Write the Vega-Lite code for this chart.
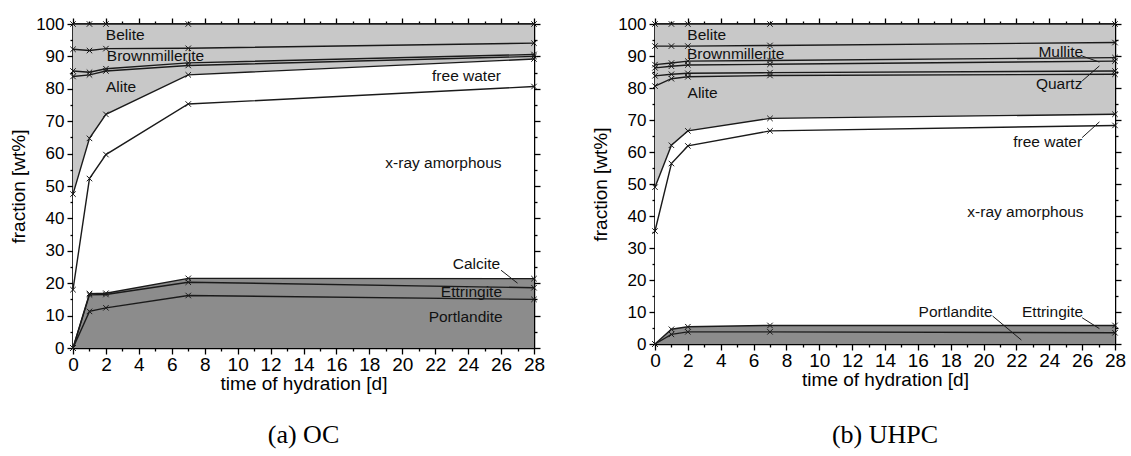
{
  "$schema": "https://vega.github.io/schema/vega-lite/v6.json",
  "padding": {"left": 8, "top": 14, "right": 5, "bottom": 5},
  "spacing": 121,
  "bounds": "flush",
  "config": {
    "font": "Liberation Sans",
    "view": {"stroke": "#000", "strokeWidth": 1.5},
    "axis": {"domainColor": "#000", "domainWidth": 1.5, "tickColor": "#000", "tickWidth": 1.3, "labelColor": "#000", "titleColor": "#000", "labelFont": "Liberation Sans", "titleFont": "Liberation Sans", "labelFontSize": 17, "titleFontSize": 19, "titleFontWeight": "normal", "grid": false},
    "title": {"font": "Liberation Serif", "fontSize": 26, "fontWeight": "normal", "color": "#000"}
  },
  "datasets": {
    "oc": [
      {"phase": "Portlandite", "t": 0, "lo": 0, "hi": 0}, {"phase": "Portlandite", "t": 1, "lo": 0, "hi": 11.3}, {"phase": "Portlandite", "t": 2, "lo": 0, "hi": 12.4}, {"phase": "Portlandite", "t": 7, "lo": 0, "hi": 16.2}, {"phase": "Portlandite", "t": 28, "lo": 0, "hi": 15.0},
      {"phase": "Ettringite", "t": 0, "lo": 0, "hi": 0}, {"phase": "Ettringite", "t": 1, "lo": 11.3, "hi": 16.4}, {"phase": "Ettringite", "t": 2, "lo": 12.4, "hi": 16.5}, {"phase": "Ettringite", "t": 7, "lo": 16.2, "hi": 20.3}, {"phase": "Ettringite", "t": 28, "lo": 15.0, "hi": 18.6},
      {"phase": "Calcite", "t": 0, "lo": 0, "hi": 0}, {"phase": "Calcite", "t": 1, "lo": 16.4, "hi": 16.8}, {"phase": "Calcite", "t": 2, "lo": 16.5, "hi": 16.9}, {"phase": "Calcite", "t": 7, "lo": 20.3, "hi": 21.5}, {"phase": "Calcite", "t": 28, "lo": 18.6, "hi": 21.4},
      {"phase": "x-ray amorphous", "t": 0, "lo": 0, "hi": 18}, {"phase": "x-ray amorphous", "t": 1, "lo": 16.8, "hi": 52.3}, {"phase": "x-ray amorphous", "t": 2, "lo": 16.9, "hi": 59.7}, {"phase": "x-ray amorphous", "t": 7, "lo": 21.5, "hi": 75.3}, {"phase": "x-ray amorphous", "t": 28, "lo": 21.4, "hi": 80.7},
      {"phase": "free water", "t": 0, "lo": 18, "hi": 47.5}, {"phase": "free water", "t": 1, "lo": 52.3, "hi": 64.7}, {"phase": "free water", "t": 2, "lo": 59.7, "hi": 72.1}, {"phase": "free water", "t": 7, "lo": 75.3, "hi": 84.3}, {"phase": "free water", "t": 28, "lo": 80.7, "hi": 89.2},
      {"phase": "Alite", "t": 0, "lo": 47.5, "hi": 83.8}, {"phase": "Alite", "t": 1, "lo": 64.7, "hi": 84.3}, {"phase": "Alite", "t": 2, "lo": 72.1, "hi": 85.5}, {"phase": "Alite", "t": 7, "lo": 84.3, "hi": 87.2}, {"phase": "Alite", "t": 28, "lo": 89.2, "hi": 90.0},
      {"phase": "minor phase", "t": 0, "lo": 83.8, "hi": 85.5}, {"phase": "minor phase", "t": 1, "lo": 84.3, "hi": 85.1}, {"phase": "minor phase", "t": 2, "lo": 85.5, "hi": 86.2}, {"phase": "minor phase", "t": 7, "lo": 87.2, "hi": 88.0}, {"phase": "minor phase", "t": 28, "lo": 90.0, "hi": 90.6},
      {"phase": "Brownmillerite", "t": 0, "lo": 85.5, "hi": 92.2}, {"phase": "Brownmillerite", "t": 1, "lo": 85.1, "hi": 91.8}, {"phase": "Brownmillerite", "t": 2, "lo": 86.2, "hi": 92.4}, {"phase": "Brownmillerite", "t": 7, "lo": 88.0, "hi": 92.5}, {"phase": "Brownmillerite", "t": 28, "lo": 90.6, "hi": 94.1},
      {"phase": "Belite", "t": 0, "lo": 92.2, "hi": 100}, {"phase": "Belite", "t": 1, "lo": 91.8, "hi": 100}, {"phase": "Belite", "t": 2, "lo": 92.4, "hi": 100}, {"phase": "Belite", "t": 7, "lo": 92.5, "hi": 100}, {"phase": "Belite", "t": 28, "lo": 94.1, "hi": 100}
    ],
    "uhpc": [
      {"phase": "Portlandite", "t": 0, "lo": 0, "hi": 0}, {"phase": "Portlandite", "t": 1, "lo": 0, "hi": 3.0}, {"phase": "Portlandite", "t": 2, "lo": 0, "hi": 3.8}, {"phase": "Portlandite", "t": 7, "lo": 0, "hi": 3.8}, {"phase": "Portlandite", "t": 28, "lo": 0, "hi": 3.5},
      {"phase": "Ettringite", "t": 0, "lo": 0, "hi": 0}, {"phase": "Ettringite", "t": 1, "lo": 3.0, "hi": 4.6}, {"phase": "Ettringite", "t": 2, "lo": 3.8, "hi": 5.4}, {"phase": "Ettringite", "t": 7, "lo": 3.8, "hi": 5.8}, {"phase": "Ettringite", "t": 28, "lo": 3.5, "hi": 5.8},
      {"phase": "x-ray amorphous", "t": 0, "lo": 0, "hi": 35.3}, {"phase": "x-ray amorphous", "t": 1, "lo": 4.6, "hi": 56.4}, {"phase": "x-ray amorphous", "t": 2, "lo": 5.4, "hi": 61.9}, {"phase": "x-ray amorphous", "t": 7, "lo": 5.8, "hi": 66.6}, {"phase": "x-ray amorphous", "t": 28, "lo": 5.8, "hi": 68.3},
      {"phase": "free water", "t": 0, "lo": 35.3, "hi": 49.0}, {"phase": "free water", "t": 1, "lo": 56.4, "hi": 62.1}, {"phase": "free water", "t": 2, "lo": 61.9, "hi": 66.6}, {"phase": "free water", "t": 7, "lo": 66.6, "hi": 70.5}, {"phase": "free water", "t": 28, "lo": 68.3, "hi": 71.8},
      {"phase": "Alite", "t": 0, "lo": 49.0, "hi": 80.6}, {"phase": "Alite", "t": 1, "lo": 62.1, "hi": 82.9}, {"phase": "Alite", "t": 2, "lo": 66.6, "hi": 83.5}, {"phase": "Alite", "t": 7, "lo": 70.5, "hi": 83.9}, {"phase": "Alite", "t": 28, "lo": 71.8, "hi": 84.3},
      {"phase": "minor phase", "t": 0, "lo": 80.6, "hi": 83.8}, {"phase": "minor phase", "t": 1, "lo": 82.9, "hi": 84.3}, {"phase": "minor phase", "t": 2, "lo": 83.5, "hi": 84.6}, {"phase": "minor phase", "t": 7, "lo": 83.9, "hi": 84.8}, {"phase": "minor phase", "t": 28, "lo": 84.3, "hi": 85.3},
      {"phase": "Quartz", "t": 0, "lo": 83.8, "hi": 86.3}, {"phase": "Quartz", "t": 1, "lo": 84.3, "hi": 86.8}, {"phase": "Quartz", "t": 2, "lo": 84.6, "hi": 87.2}, {"phase": "Quartz", "t": 7, "lo": 84.8, "hi": 87.4}, {"phase": "Quartz", "t": 28, "lo": 85.3, "hi": 88.4},
      {"phase": "Mullite", "t": 0, "lo": 86.3, "hi": 87.3}, {"phase": "Mullite", "t": 1, "lo": 86.8, "hi": 87.8}, {"phase": "Mullite", "t": 2, "lo": 87.2, "hi": 88.4}, {"phase": "Mullite", "t": 7, "lo": 87.4, "hi": 88.6}, {"phase": "Mullite", "t": 28, "lo": 88.4, "hi": 89.5},
      {"phase": "Brownmillerite", "t": 0, "lo": 87.3, "hi": 93.1}, {"phase": "Brownmillerite", "t": 1, "lo": 87.8, "hi": 93.1}, {"phase": "Brownmillerite", "t": 2, "lo": 88.4, "hi": 93.1}, {"phase": "Brownmillerite", "t": 7, "lo": 88.6, "hi": 93.3}, {"phase": "Brownmillerite", "t": 28, "lo": 89.5, "hi": 94.2},
      {"phase": "Belite", "t": 0, "lo": 93.1, "hi": 100}, {"phase": "Belite", "t": 1, "lo": 93.1, "hi": 100}, {"phase": "Belite", "t": 2, "lo": 93.1, "hi": 100}, {"phase": "Belite", "t": 7, "lo": 93.3, "hi": 100}, {"phase": "Belite", "t": 28, "lo": 94.2, "hi": 100}
    ],
    "oc_labels": [
      {"label": "Belite", "t": 3.17, "v": 96.5}, {"label": "Brownmillerite", "t": 5.01, "v": 90.0}, {"label": "Alite", "t": 2.92, "v": 80.5},
      {"label": "free water", "t": 23.9, "v": 83.8}, {"label": "x-ray amorphous", "t": 22.5, "v": 57.0},
      {"label": "Calcite", "t": 24.5, "v": 26.0}, {"label": "Ettringite", "t": 24.2, "v": 17.2}, {"label": "Portlandite", "t": 23.85, "v": 9.5}
    ],
    "uhpc_labels": [
      {"label": "Belite", "t": 3.15, "v": 96.6}, {"label": "Brownmillerite", "t": 4.91, "v": 90.5}, {"label": "Alite", "t": 2.9, "v": 78.3},
      {"label": "Mullite", "t": 24.7, "v": 91.25}, {"label": "Quartz", "t": 24.6, "v": 81.1}, {"label": "free water", "t": 23.9, "v": 63.1},
      {"label": "x-ray amorphous", "t": 22.55, "v": 41.25}, {"label": "Portlandite", "t": 18.3, "v": 10.0}, {"label": "Ettringite", "t": 24.2, "v": 10.0}
    ],
    "oc_leaders": [
      {"label": "Calcite", "t": 26.0, "v": 24.0, "t2": 27.0, "v2": 20.0}
    ],
    "uhpc_leaders": [
      {"label": "Mullite", "t": 26.0, "v": 90.0, "t2": 27.05, "v2": 88.1},
      {"label": "Quartz", "t": 26.0, "v": 82.2, "t2": 27.05, "v2": 86.9},
      {"label": "free water", "t": 26.0, "v": 64.5, "t2": 27.05, "v2": 69.4},
      {"label": "Portlandite", "t": 20.55, "v": 8.75, "t2": 22.3, "v2": 1.25},
      {"label": "Ettringite", "t": 26.0, "v": 8.2, "t2": 27.05, "v2": 4.8}
    ]
  },
  "hconcat": [
    {
      "width": 461, "height": 324,
      "title": {"text": "(a) OC", "orient": "bottom", "offset": 29},
      "resolve": {"axis": {"x": "independent", "y": "independent"}},
      "layer": [
        {"data": {"name": "oc"}, "mark": {"type": "area", "interpolate": "linear"},
         "encoding": {
           "x": {"field": "t", "type": "quantitative", "scale": {"domain": [0, 28], "nice": false},
                 "axis": {"values": [0,1,2,3,4,5,6,7,8,9,10,11,12,13,14,15,16,17,18,19,20,21,22,23,24,25,26,27,28], "labelExpr": "datum.value % 2 === 0 ? datum.label : ''", "tickSize": {"condition": {"test": "datum.value % 2 === 0", "value": 6}, "value": 3}, "labelFontSize": 19, "labelPadding": 1, "labelFlush": false, "labelOverlap": false, "title": "time of hydration [d]", "titlePadding": 0}},
           "y": {"field": "hi", "type": "quantitative", "scale": {"domain": [0, 100], "nice": false},
                 "axis": {"values": [0,5,10,15,20,25,30,35,40,45,50,55,60,65,70,75,80,85,90,95,100], "labelExpr": "datum.value % 10 === 0 ? datum.label : ''", "tickSize": {"condition": {"test": "datum.value % 10 === 0", "value": 6}, "value": 3}, "labelPadding": 3, "labelOverlap": false, "labelFlush": false, "title": "fraction [wt%]", "titlePadding": 7}},
           "y2": {"field": "lo"},
           "color": {"field": "phase", "type": "nominal", "legend": null,
                     "scale": {"domain": ["Portlandite", "Ettringite", "Calcite", "x-ray amorphous", "free water", "Alite", "minor phase", "Quartz", "Mullite", "Brownmillerite", "Belite"],
                               "range": ["#8c8c8c", "#8c8c8c", "#8c8c8c", "#ffffff", "#ffffff", "#c8c8c8", "#c8c8c8", "#c8c8c8", "#c8c8c8", "#c8c8c8", "#c8c8c8"]}}
         }},
        {"data": {"name": "oc_labels"}, "mark": {"type": "text", "font": "Liberation Sans", "fontSize": 15.5, "color": "#111", "baseline": "middle"},
         "encoding": {"x": {"field": "t", "type": "quantitative", "axis": null}, "y": {"field": "v", "type": "quantitative", "axis": null}, "text": {"field": "label"}}},
        {"data": {"name": "oc"}, "mark": {"type": "line", "color": "#1a1a1a", "strokeWidth": 1.4},
         "encoding": {
           "x": {"field": "t", "type": "quantitative", "axis": {"orient": "top", "values": [0,1,2,3,4,5,6,7,8,9,10,11,12,13,14,15,16,17,18,19,20,21,22,23,24,25,26,27,28], "labels": false, "tickSize": {"condition": {"test": "datum.value % 2 === 0", "value": 6}, "value": 3}, "title": null}},
           "y": {"field": "hi", "type": "quantitative", "axis": {"orient": "right", "values": [0,5,10,15,20,25,30,35,40,45,50,55,60,65,70,75,80,85,90,95,100], "labels": false, "tickSize": {"condition": {"test": "datum.value % 10 === 0", "value": 6}, "value": 3}, "title": null}},
           "detail": {"field": "phase"}}},
        {"data": {"name": "oc"}, "mark": {"type": "point", "shape": "M-1,-1L1,1M-1,1L1,-1", "filled": false, "size": 30, "color": "#1a1a1a", "strokeWidth": 1, "opacity": 1},
         "encoding": {"x": {"field": "t", "type": "quantitative", "axis": null}, "y": {"field": "hi", "type": "quantitative", "axis": null}}},
        {"data": {"name": "oc_leaders"}, "mark": {"type": "rule", "color": "#1a1a1a", "strokeWidth": 1},
         "encoding": {"x": {"field": "t", "type": "quantitative", "axis": null}, "y": {"field": "v", "type": "quantitative", "axis": null}, "x2": {"field": "t2"}, "y2": {"field": "v2"}}}
      ]
    },
    {
      "width": 460, "height": 320,
      "title": {"text": "(b) UHPC", "orient": "bottom", "offset": 33},
      "resolve": {"axis": {"x": "independent", "y": "independent"}},
      "layer": [
        {"data": {"name": "uhpc"}, "mark": {"type": "area", "interpolate": "linear"},
         "encoding": {
           "x": {"field": "t", "type": "quantitative", "scale": {"domain": [0, 28], "nice": false},
                 "axis": {"values": [0,1,2,3,4,5,6,7,8,9,10,11,12,13,14,15,16,17,18,19,20,21,22,23,24,25,26,27,28], "labelExpr": "datum.value % 2 === 0 ? datum.label : ''", "tickSize": {"condition": {"test": "datum.value % 2 === 0", "value": 6}, "value": 3}, "labelFontSize": 19, "labelPadding": 1, "labelFlush": false, "labelOverlap": false, "title": "time of hydration [d]", "titlePadding": 0}},
           "y": {"field": "hi", "type": "quantitative", "scale": {"domain": [0, 100], "nice": false},
                 "axis": {"values": [0,5,10,15,20,25,30,35,40,45,50,55,60,65,70,75,80,85,90,95,100], "labelExpr": "datum.value % 10 === 0 ? datum.label : ''", "tickSize": {"condition": {"test": "datum.value % 10 === 0", "value": 6}, "value": 3}, "labelPadding": 3, "labelOverlap": false, "labelFlush": false, "title": "fraction [wt%]", "titlePadding": 7}},
           "y2": {"field": "lo"},
           "color": {"field": "phase", "type": "nominal", "legend": null,
                     "scale": {"domain": ["Portlandite", "Ettringite", "Calcite", "x-ray amorphous", "free water", "Alite", "minor phase", "Quartz", "Mullite", "Brownmillerite", "Belite"],
                               "range": ["#8c8c8c", "#8c8c8c", "#8c8c8c", "#ffffff", "#ffffff", "#c8c8c8", "#c8c8c8", "#c8c8c8", "#c8c8c8", "#c8c8c8", "#c8c8c8"]}}
         }},
        {"data": {"name": "uhpc_labels"}, "mark": {"type": "text", "font": "Liberation Sans", "fontSize": 15.5, "color": "#111", "baseline": "middle"},
         "encoding": {"x": {"field": "t", "type": "quantitative", "axis": null}, "y": {"field": "v", "type": "quantitative", "axis": null}, "text": {"field": "label"}}},
        {"data": {"name": "uhpc"}, "mark": {"type": "line", "color": "#1a1a1a", "strokeWidth": 1.4},
         "encoding": {
           "x": {"field": "t", "type": "quantitative", "axis": {"orient": "top", "values": [0,1,2,3,4,5,6,7,8,9,10,11,12,13,14,15,16,17,18,19,20,21,22,23,24,25,26,27,28], "labels": false, "tickSize": {"condition": {"test": "datum.value % 2 === 0", "value": 6}, "value": 3}, "title": null}},
           "y": {"field": "hi", "type": "quantitative", "axis": {"orient": "right", "values": [0,5,10,15,20,25,30,35,40,45,50,55,60,65,70,75,80,85,90,95,100], "labels": false, "tickSize": {"condition": {"test": "datum.value % 10 === 0", "value": 6}, "value": 3}, "title": null}},
           "detail": {"field": "phase"}}},
        {"data": {"name": "uhpc"}, "mark": {"type": "point", "shape": "M-1,-1L1,1M-1,1L1,-1", "filled": false, "size": 30, "color": "#1a1a1a", "strokeWidth": 1, "opacity": 1},
         "encoding": {"x": {"field": "t", "type": "quantitative", "axis": null}, "y": {"field": "hi", "type": "quantitative", "axis": null}}},
        {"data": {"name": "uhpc_leaders"}, "mark": {"type": "rule", "color": "#1a1a1a", "strokeWidth": 1},
         "encoding": {"x": {"field": "t", "type": "quantitative", "axis": null}, "y": {"field": "v", "type": "quantitative", "axis": null}, "x2": {"field": "t2"}, "y2": {"field": "v2"}}}
      ]
    }
  ]
}
